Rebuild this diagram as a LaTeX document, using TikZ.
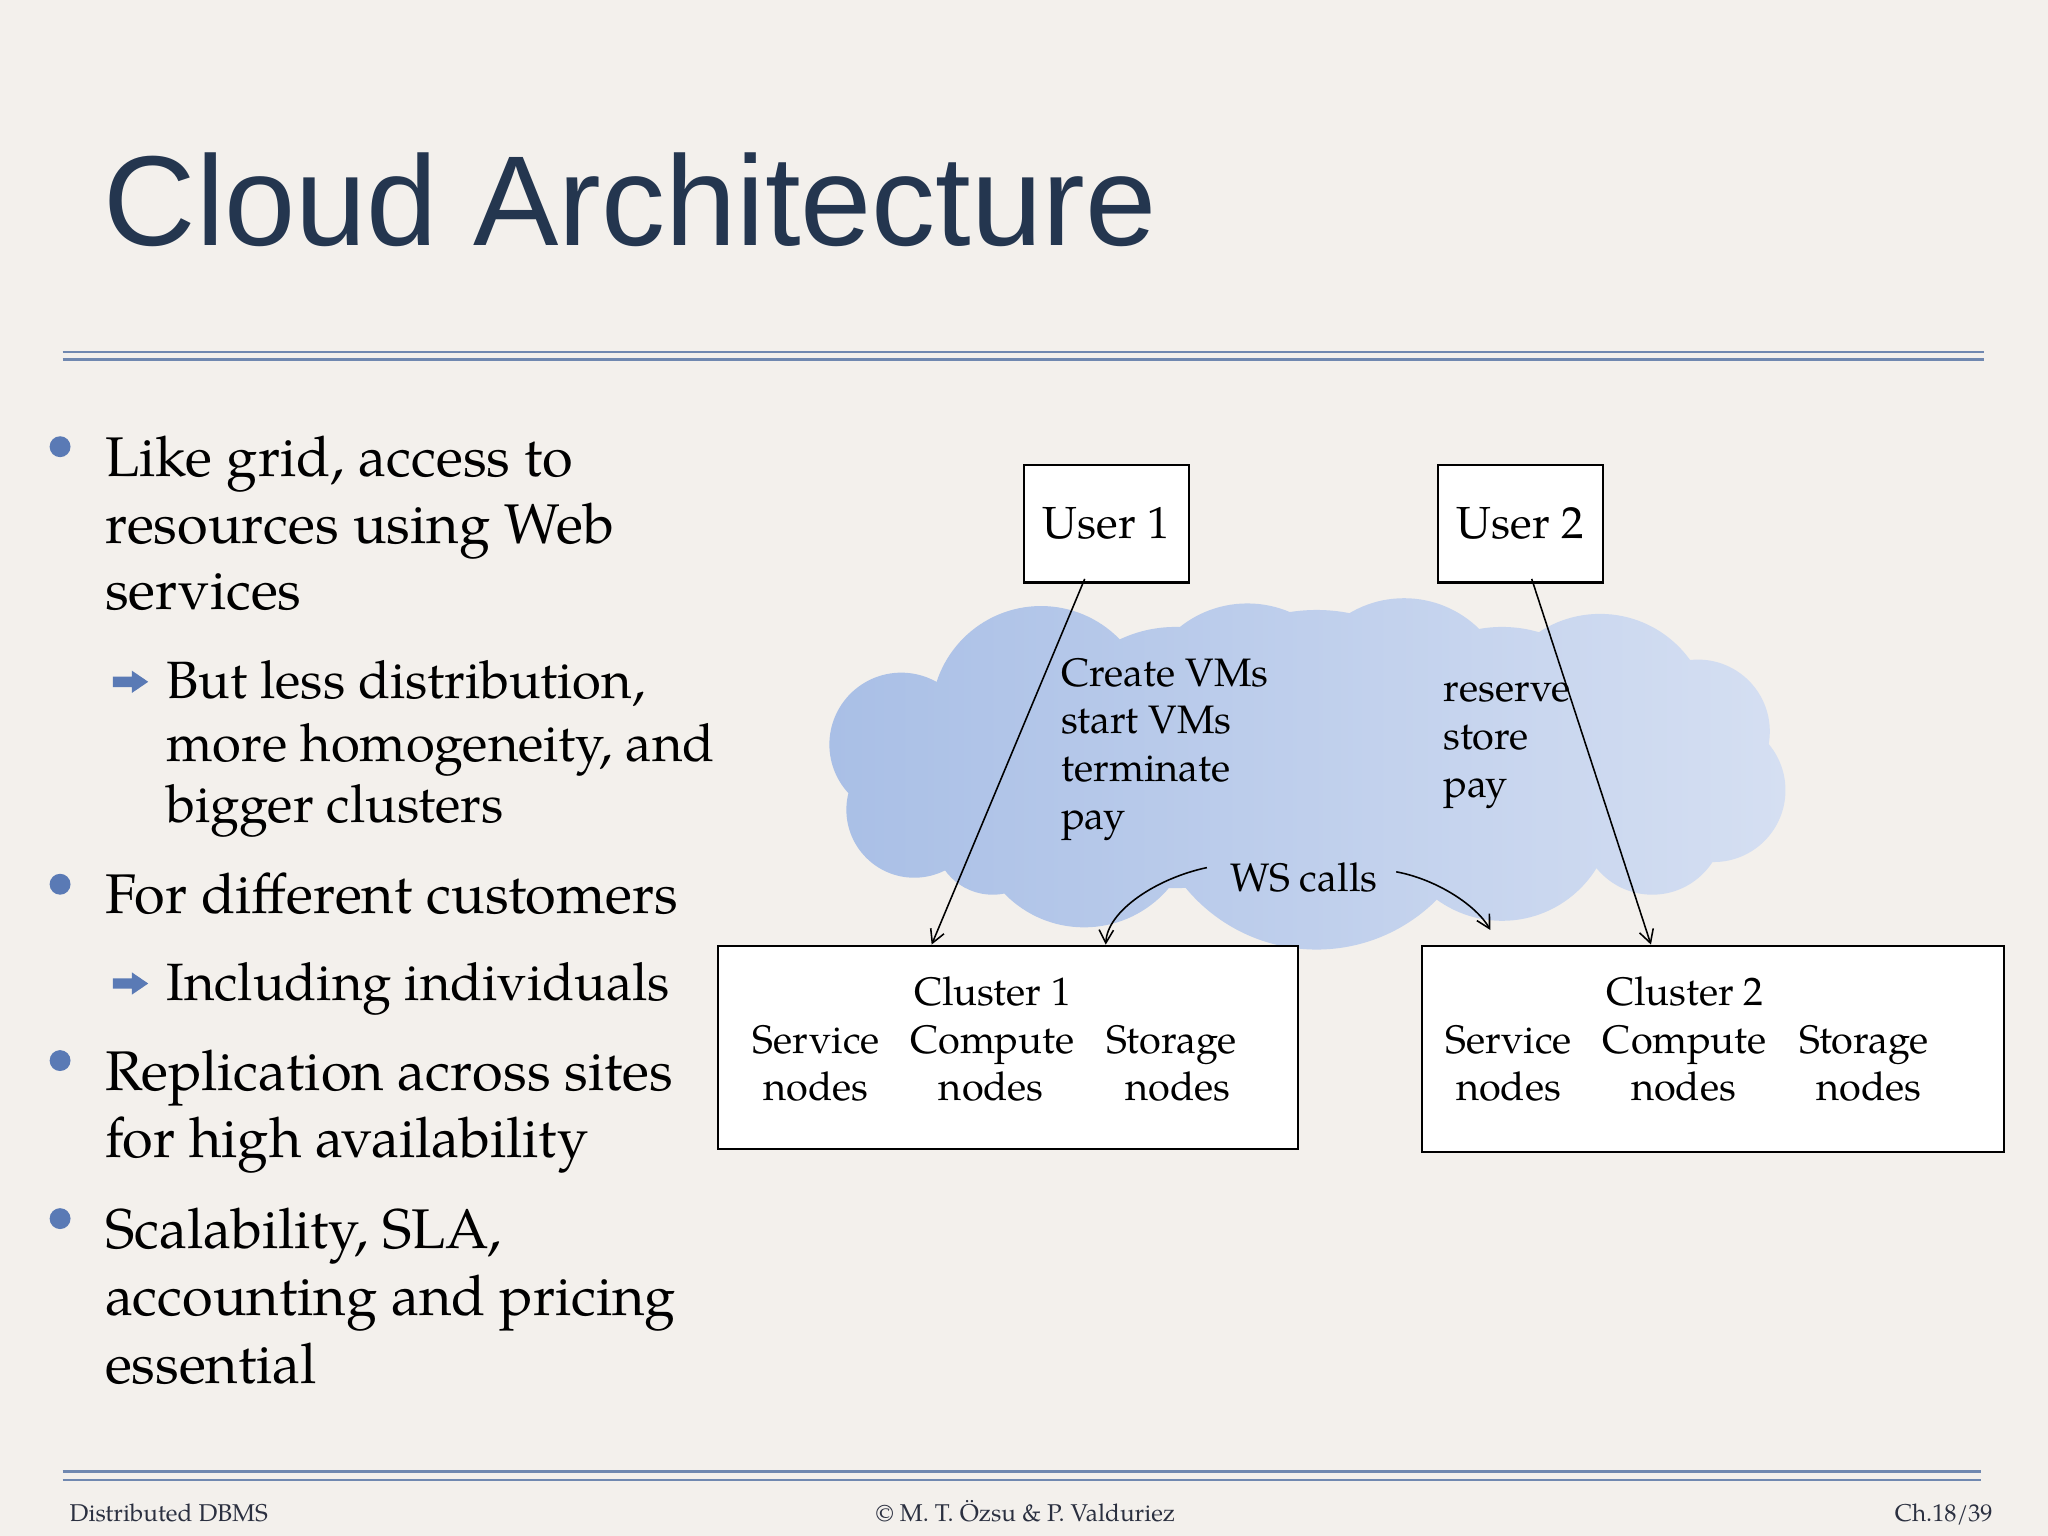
\documentclass[tikz,border=0pt]{standalone}
\usepackage{fontspec}
\setmainfont{texgyrepagella}[Extension=.otf, UprightFont=*-regular, BoldFont=*-bold, ItalicFont=*-italic, BoldItalicFont=*-bolditalic]
\newfontfamily\titlefont{Liberation Sans}
\usetikzlibrary{arrows.meta}
\definecolor{bgcol}{HTML}{F3F0EC}
\definecolor{titlecol}{HTML}{24364F}
\definecolor{rulecol}{HTML}{7088B0}
\definecolor{bulletcol}{HTML}{5A7AB5}
\definecolor{cloudL}{HTML}{A9BFE6}
\definecolor{cloudR}{HTML}{D5DFF2}
\definecolor{footcol}{HTML}{2B3040}
\tikzset{
  body/.style={anchor=base west, inner sep=0pt, font=\fontsize{21.4}{25}\selectfont},
  subbody/.style={anchor=base west, inner sep=0pt, font=\fontsize{20.1}{23}\selectfont},
  foot/.style={inner sep=0pt, text=footcol, font=\fontsize{9.3}{11}\selectfont},
  userbox/.style={draw=black, line width=0.8pt, fill=white, minimum width=63pt, minimum height=45pt, inner sep=0pt, font=\fontsize{17.2}{20}\selectfont},
  clusterbox/.style={draw=black, line width=0.8pt, fill=white, inner sep=0pt},
  dtext/.style={anchor=base, inner sep=0pt, font=\fontsize{15.2}{18}\selectfont},
  ltext/.style={anchor=base west, inner sep=0pt, font=\fontsize{15.2}{18}\selectfont},
  conn/.style={line width=0.6pt, -{Straight Barb[length=5pt,width=5.5pt]}},
  dotbullet/.style={fill=bulletcol},
  arrowbullet/.pic={\fill[bulletcol] (-13.5,-4) -- (1,-4) -- (1,-8.5) -- (13.5,0) -- (1,8.5) -- (1,4) -- (-13.5,4) -- cycle;}
}
\begin{document}
\begin{tikzpicture}[x=0.5pt,y=-0.5pt]
\fill[bgcol] (0,0) rectangle (1568,1176);
\useasboundingbox (0,0) rectangle (1568,1176);

% title
\node[anchor=base west, inner sep=0pt, text=titlecol, font=\titlefont\fontsize{49}{50}\selectfont] (title) at (79,188) {Cloud Architecture};
\draw[rulecol, line width=1pt] (48,269.5) -- (1519,269.5);
\draw[rulecol, line width=1pt] (48,275.2) -- (1519,275.2);

% bullets
\fill[dotbullet] (46,342) circle (4pt);
\node[body] (b1a) at (80,365) {Like grid, access to};
\node[body] (b1b) at (80,416) {resources using Web};
\node[body] (b1c) at (80,467) {services};
\pic at (100,522) {arrowbullet};
\node[subbody] (s1a) at (127,534.5) {But less distribution,};
\node[subbody] (s1b) at (127,583) {more homogeneity, and};
\node[subbody] (s1c) at (127,630) {bigger clusters};
\fill[dotbullet] (46,677) circle (4pt);
\node[body] (b2a) at (80,699.5) {For different customers};
\pic at (100,753) {arrowbullet};
\node[subbody] (s2a) at (127,766) {Including individuals};
\fill[dotbullet] (46,812) circle (4pt);
\node[body] (b3a) at (80,834.6) {Replication across sites};
\node[body] (b3b) at (80,886) {for high availability};
\fill[dotbullet] (46,933) circle (4pt);
\node[body] (b4a) at (80,955.6) {Scalability, SLA,};
\node[body] (b4b) at (80,1007) {accounting and pricing};
\node[body] (b4c) at (80,1059) {essential};

% cloud
\shade[left color=cloudL, right color=cloudR]
  (690,570) circle (27.5pt)
  (700,620) circle (26pt)
  (760,640) circle (22.5pt)
  (797,548) circle (42pt)
  (955,545) circle (41.5pt)
  (1075,540) circle (41pt)
  (1225,555) circle (42.5pt)
  (1300,560) circle (27.5pt)
  (1312,605) circle (27.5pt)
  (1265,630) circle (27.5pt)
  (1150,620) circle (42.5pt)
  (1008,597) circle (65pt)
  (830,625) circle (42.5pt)
  (900,580) circle (50pt)
  (1150,580) circle (50pt);

% boxes
\node[userbox] (u1) at (847,401) {User 1};
\node[userbox] (u2) at (1164,401) {User 2};
\node[clusterbox, minimum width=222pt, minimum height=78pt] (c1) at (772,802) {};
\node[clusterbox, minimum width=222.5pt, minimum height=79pt] (c2) at (1311.5,803) {};

% cluster texts
\node[dtext] (c1t) at (760,769.5) {Cluster 1};
\node[dtext] (c1s) at (625,806.5) {Service};
\node[dtext] (c1c) at (760,806.5) {Compute};
\node[dtext] (c1g) at (897,806.5) {Storage};
\node[dtext] (c1sn) at (625,842.3) {nodes};
\node[dtext] (c1cn) at (759,842.3) {nodes};
\node[dtext] (c1gn) at (902,842.3) {nodes};
\node[dtext] (c2t) at (1290,769.5) {Cluster 2};
\node[dtext] (c2s) at (1155,806.5) {Service};
\node[dtext] (c2c) at (1290,806.5) {Compute};
\node[dtext] (c2g) at (1427,806.5) {Storage};
\node[dtext] (c2sn) at (1155,842.3) {nodes};
\node[dtext] (c2cn) at (1289,842.3) {nodes};
\node[dtext] (c2gn) at (1431,842.3) {nodes};

% cloud texts
\node[ltext] (l1) at (812,525.3) {Create VMs};
\node[ltext] (l2) at (812,561.8) {start VMs};
\node[ltext] (l3) at (812,598.5) {terminate};
\node[ltext] (l4) at (812,635.2) {pay};
\node[ltext] (r1) at (1105,537.3) {reserve};
\node[ltext] (r2) at (1105,573.8) {store};
\node[ltext] (r3) at (1105,610.3) {pay};
\node[ltext] (ws) at (942,682.2) {WS calls};

% connectors
\coordinate (wsend) at (1141,712);
\draw[conn] ([xshift=-8.25pt,yshift=1.8pt]u1.south) -- ([xshift=-29.35pt]c1.north);
\draw[conn] ([xshift=4.35pt,yshift=1.8pt]u2.south) -- ([xshift=-23.75pt]c2.north);
\draw[conn] ([xshift=-9pt,yshift=3.6pt]ws.west) .. controls ++(-19pt,-4pt) and ++(0.5pt,13pt) .. ([xshift=37.3pt]c1.north);
\draw[conn] ([xshift=7pt,yshift=2pt]ws.east) .. controls ++(16pt,-3pt) and ++(-5pt,9pt) .. (wsend);

% footer
\draw[rulecol, line width=1pt] (48,1126.8) -- (1517,1126.8);
\draw[rulecol, line width=1pt] (48,1133.2) -- (1517,1133.2);
\node[foot, anchor=base west] (f1) at (53,1165) {Distributed DBMS};
\node[foot, anchor=base west] (f2) at (670,1165) {© M. T. Özsu \& P. Valduriez};
\node[foot, anchor=base east] (f3) at (1526,1165) {Ch.18/39};
\end{tikzpicture}
\end{document}
